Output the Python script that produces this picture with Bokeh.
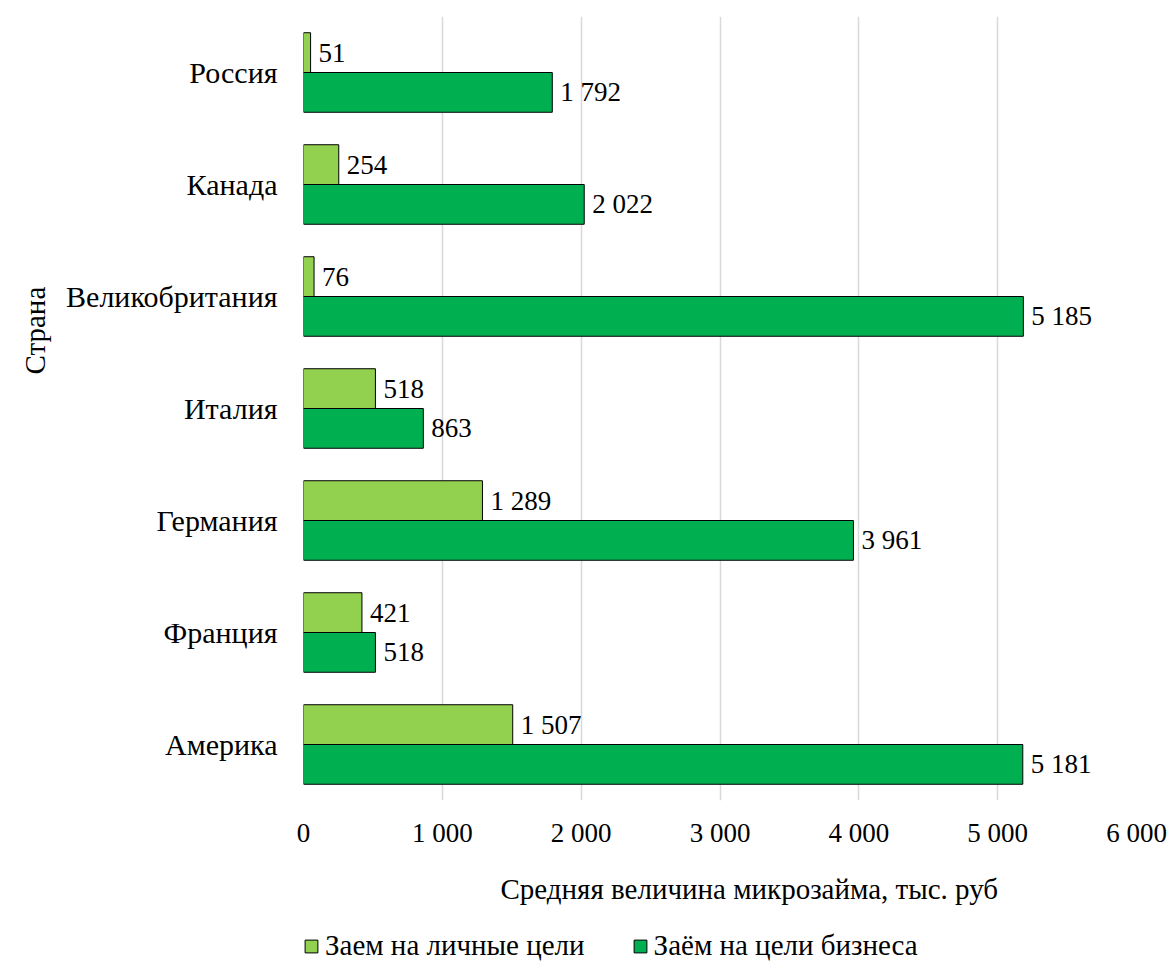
from bokeh.plotting import figure
from bokeh.layouts import column
from bokeh.models import (Range1d, FixedTicker, ColumnDataSource, Title,
                          Label, Legend, LegendItem)
from bokeh.embed import file_html
from bokeh.resources import INLINE
from bokeh.core.properties import value

# Average microloan size by country, thousand roubles
countries = ["Россия", "Канада", "Великобритания", "Италия", "Германия", "Франция", "Америка"]
personal = [51, 254, 76, 518, 1289, 421, 1507]
business = [1792, 2022, 5185, 863, 3961, 518, 5181]
x_ticks = [0, 1000, 2000, 3000, 4000, 5000, 6000]
series_names = ["Заем на личные цели", "Заём на цели бизнеса"]
x_title = "Средняя величина микрозайма, тыс. руб"
y_title = "Страна"

FONT = "Liberation Serif"
NUM_SIZE = "27px"
TXT_SIZE = "29px"
CAT_SIZE = "30px"
LIGHT = "#92D050"
DARK = "#00B050"

FRAME_LEFT, FRAME_RIGHT = 303, 1136
W = 1169


def fmt(v):
    return f"{v:,}".replace(",", " ")


n = len(countries)
centers = [n - 1 - i + 0.5 for i in range(n)]
bar_h = 0.355

src_p = ColumnDataSource(dict(
    y=[c + bar_h / 2 for c in centers], x=personal,
    lbl=[fmt(v) for v in personal]))
src_b = ColumnDataSource(dict(
    y=[c - bar_h / 2 for c in centers], x=business,
    lbl=[fmt(v) for v in business]))

# ---- main chart ----
p = figure(width=W, height=850, output_backend="svg", toolbar_location=None,
           x_range=Range1d(0, 6000), y_range=Range1d(0, n),
           min_border_left=FRAME_LEFT, min_border_right=W - FRAME_RIGHT,
           min_border_top=16, min_border_bottom=47)
p.outline_line_color = None
p.background_fill_color = "white"
p.border_fill_color = "white"

p.hbar(y="y", right="x", left=0, height=bar_h, source=src_p,
       fill_color=LIGHT, line_color="black", line_width=1)
p.hbar(y="y", right="x", left=0, height=bar_h, source=src_b,
       fill_color=DARK, line_color="black", line_width=1)

for src in (src_p, src_b):
    p.text(x="x", y="y", text="lbl", source=src, x_offset=8,
           text_baseline="middle", text_align="left",
           text_font=value(FONT), text_font_size=NUM_SIZE, text_color="black")

p.xaxis.ticker = FixedTicker(ticks=x_ticks)
p.xaxis.major_label_overrides = {t: fmt(t) for t in x_ticks}
p.xaxis.axis_line_color = None
p.xaxis.major_tick_line_color = None
p.xaxis.minor_tick_line_color = None
p.xaxis.major_label_standoff = 11
p.xaxis.major_label_text_font = FONT
p.xaxis.major_label_text_font_size = NUM_SIZE
p.xaxis.major_label_text_color = "black"

p.yaxis.ticker = FixedTicker(ticks=centers)
p.yaxis.major_label_overrides = {c: name for c, name in zip(centers, countries)}
p.yaxis.axis_line_color = None
p.yaxis.major_tick_line_color = None
p.yaxis.minor_tick_line_color = None
p.yaxis.major_label_standoff = 20
p.yaxis.major_label_text_font = FONT
p.yaxis.major_label_text_font_size = CAT_SIZE
p.yaxis.major_label_text_color = "black"

p.xgrid.grid_line_color = "#d9d9d9"
p.xgrid.grid_line_width = 1.5
p.ygrid.grid_line_color = None

p.add_layout(Title(text=y_title, align="left", offset=426, standoff=26,
                   text_font=FONT, text_font_size=TXT_SIZE,
                   text_font_style="normal", text_color="black"), "left")

# ---- bottom strip: x axis title and legend ----
# Its frame lines up with the chart above; x is in canvas pixels.
b = figure(width=W, height=112, output_backend="svg", toolbar_location=None,
           x_range=Range1d(FRAME_LEFT, FRAME_RIGHT), y_range=Range1d(0, 112),
           min_border_left=FRAME_LEFT, min_border_right=W - FRAME_RIGHT,
           min_border_top=0, min_border_bottom=0,
           x_axis_type=None, y_axis_type=None)
b.outline_line_color = None
b.grid.visible = False
b.background_fill_color = "white"
b.border_fill_color = "white"

b.add_layout(Label(x=500, y=74, text=x_title, text_align="left",
                   text_baseline="middle", text_font=FONT,
                   text_font_size=TXT_SIZE, text_color="black"))

# legend keys: renderers that carry the series styles but draw nothing
nan = float("nan")
keys = ColumnDataSource(dict(y=[nan], x=[nan]))
k1 = b.hbar(y="y", right="x", left=0, height=1, source=keys,
            fill_color=LIGHT, line_color="black", line_width=1)
k2 = b.hbar(y="y", right="x", left=0, height=1, source=keys,
            fill_color=DARK, line_color="black", line_width=1)

legend = Legend(items=[LegendItem(label=series_names[0], renderers=[k1]),
                       LegendItem(label=series_names[1], renderers=[k2])],
                orientation="horizontal", location=(0, 0),
                glyph_width=16, glyph_height=16, label_standoff=6,
                spacing=47, padding=0, margin=0,
                border_line_color=None, background_fill_alpha=0,
                label_text_font=FONT, label_text_font_size=TXT_SIZE,
                label_text_line_height=1.0,
                label_text_color="black")
b.add_layout(legend, "center")

open("out.html", "w").write(file_html(column(p, b, spacing=0), INLINE))
